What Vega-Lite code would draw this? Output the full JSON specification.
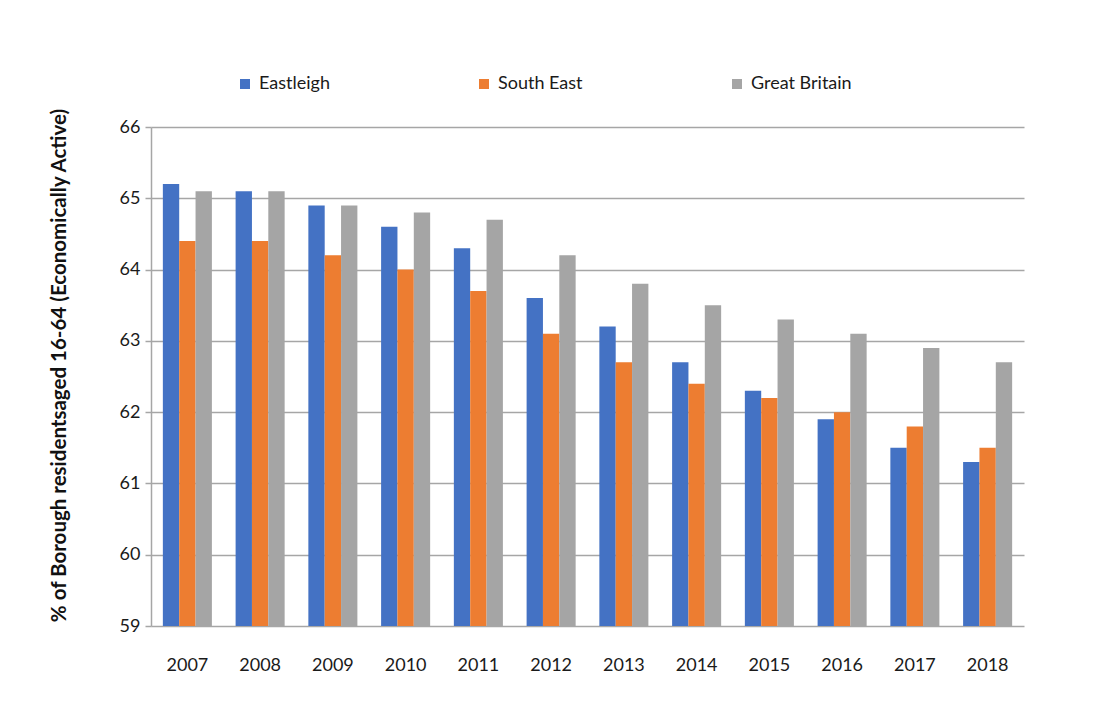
{
  "$schema": "https://vega.github.io/schema/vega-lite/v6.json",
  "width": 873,
  "height": 499,
  "autosize": "none",
  "padding": {"left": 151, "top": 127, "right": 81, "bottom": 83},
  "background": "white",
  "data": {
    "values": [
      {"year": "2007", "area": "Eastleigh", "value": 65.2},
      {"year": "2007", "area": "South East", "value": 64.4},
      {"year": "2007", "area": "Great Britain", "value": 65.1},
      {"year": "2008", "area": "Eastleigh", "value": 65.1},
      {"year": "2008", "area": "South East", "value": 64.4},
      {"year": "2008", "area": "Great Britain", "value": 65.1},
      {"year": "2009", "area": "Eastleigh", "value": 64.9},
      {"year": "2009", "area": "South East", "value": 64.2},
      {"year": "2009", "area": "Great Britain", "value": 64.9},
      {"year": "2010", "area": "Eastleigh", "value": 64.6},
      {"year": "2010", "area": "South East", "value": 64.0},
      {"year": "2010", "area": "Great Britain", "value": 64.8},
      {"year": "2011", "area": "Eastleigh", "value": 64.3},
      {"year": "2011", "area": "South East", "value": 63.7},
      {"year": "2011", "area": "Great Britain", "value": 64.7},
      {"year": "2012", "area": "Eastleigh", "value": 63.6},
      {"year": "2012", "area": "South East", "value": 63.1},
      {"year": "2012", "area": "Great Britain", "value": 64.2},
      {"year": "2013", "area": "Eastleigh", "value": 63.2},
      {"year": "2013", "area": "South East", "value": 62.7},
      {"year": "2013", "area": "Great Britain", "value": 63.8},
      {"year": "2014", "area": "Eastleigh", "value": 62.7},
      {"year": "2014", "area": "South East", "value": 62.4},
      {"year": "2014", "area": "Great Britain", "value": 63.5},
      {"year": "2015", "area": "Eastleigh", "value": 62.3},
      {"year": "2015", "area": "South East", "value": 62.2},
      {"year": "2015", "area": "Great Britain", "value": 63.3},
      {"year": "2016", "area": "Eastleigh", "value": 61.9},
      {"year": "2016", "area": "South East", "value": 62.0},
      {"year": "2016", "area": "Great Britain", "value": 63.1},
      {"year": "2017", "area": "Eastleigh", "value": 61.5},
      {"year": "2017", "area": "South East", "value": 61.8},
      {"year": "2017", "area": "Great Britain", "value": 62.9},
      {"year": "2018", "area": "Eastleigh", "value": 61.3},
      {"year": "2018", "area": "South East", "value": 61.5},
      {"year": "2018", "area": "Great Britain", "value": 62.7}
    ]
  },
  "mark": {"type": "bar", "clip": true},
  "encoding": {
    "x": {
      "field": "year",
      "type": "nominal",
      "scale": {"paddingInner": 0.326, "paddingOuter": 0.163},
      "axis": {
        "title": null,
        "labelAngle": 0,
        "labelPadding": 30,
        "labelFontSize": 18,
        "labelFont": "Lato",
        "labelColor": "#1a1a1a",
        "domain": false,
        "ticks": false
      }
    },
    "y": {
      "field": "value",
      "type": "quantitative",
      "scale": {"domain": [59, 66], "nice": false, "zero": false},
      "axis": {
        "title": "% of Borough residentsaged 16-64 (Economically Active)",
        "titleFont": "Lato",
        "titleFontSize": 20.5,
        "titleFontWeight": "bold",
        "titleColor": "#111",
        "titlePadding": 50,
        "titleY": 238,
        "values": [59, 60, 61, 62, 63, 64, 65, 66],
        "labelFont": "Lato",
        "labelFontSize": 18,
        "labelColor": "#1a1a1a",
        "labelPadding": 5,
        "ticks": true,
        "tickSize": 6,
        "tickColor": "#A6A6A6",
        "tickWidth": 1.5,
        "domain": true,
        "domainColor": "#A6A6A6",
        "domainWidth": 1.5,
        "grid": true,
        "gridColor": "#A6A6A6",
        "gridWidth": 1.5
      }
    },
    "xOffset": {
      "field": "area",
      "type": "nominal",
      "sort": ["Eastleigh", "South East", "Great Britain"],
      "scale": {"paddingInner": 0, "paddingOuter": 0}
    },
    "color": {
      "field": "area",
      "type": "nominal",
      "sort": ["Eastleigh", "South East", "Great Britain"],
      "scale": {"domain": ["Eastleigh", "South East", "Great Britain"], "range": ["#4472C4", "#ED7D31", "#A5A5A5"]},
      "legend": {
        "title": null,
        "orient": "none",
        "direction": "horizontal",
        "legendX": 85,
        "legendY": -52,
        "symbolType": "square",
        "symbolSize": 100,
        "symbolStrokeWidth": 0,
        "labelFont": "Lato",
        "labelFontSize": 18,
        "labelColor": "#1a1a1a",
        "labelOffset": 5,
        "columnPadding": 145
      }
    }
  },
  "config": {
    "view": {"stroke": null}
  }
}
